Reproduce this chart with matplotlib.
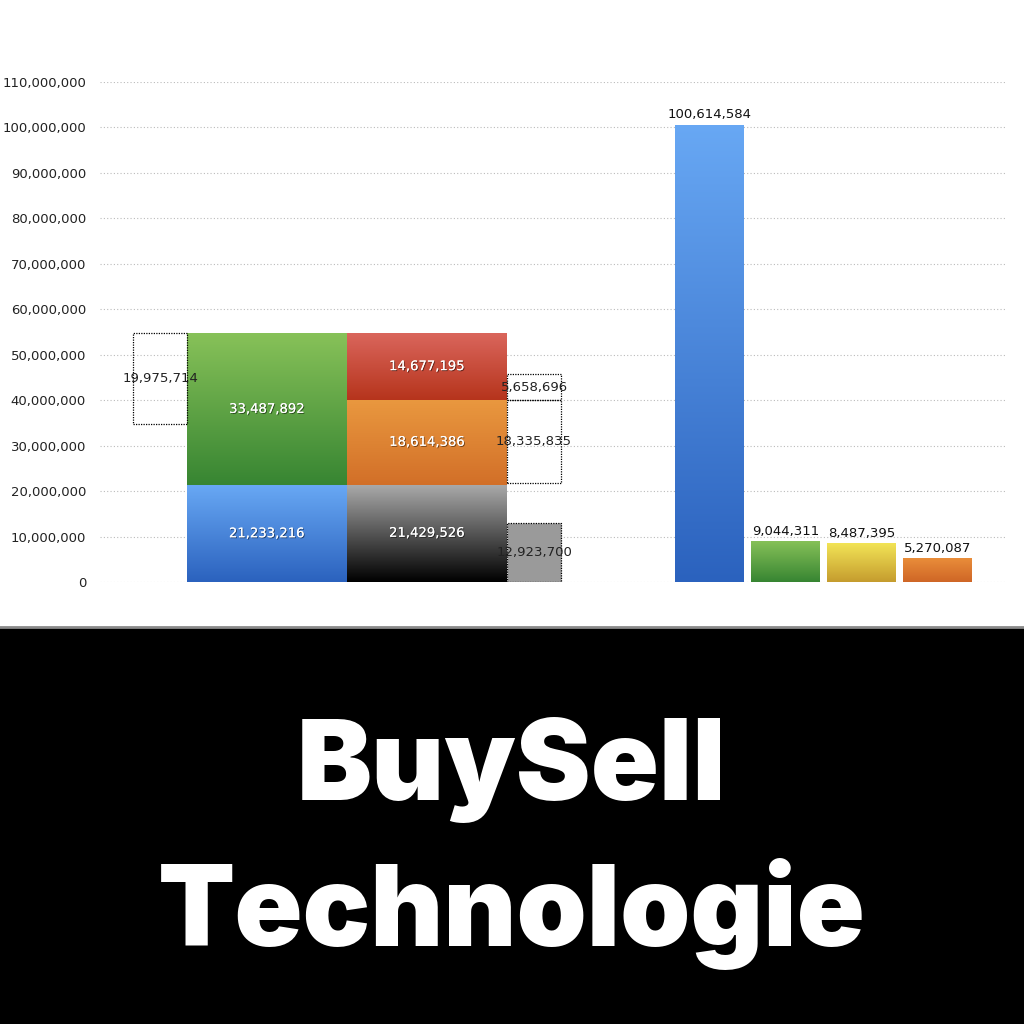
import numpy as np
import matplotlib
matplotlib.use("Agg")
import matplotlib.pyplot as plt
import matplotlib.patheffects as pe
from matplotlib.patches import Rectangle
from matplotlib.ticker import FuncFormatter

# left block: stacked columns and the dotted "difference" boxes
col1_values = [21233216, 33487892]          # blue, green
col2_values = [21429526, 18614386, 14677195]  # black, orange, red
gap_left = 19975714                         # dotted box, left of column 1
gap_right = [5658696, 18335835]             # dotted boxes, right of column 2 (top first)
gap_filled = 12923700                       # grey filled dotted box

# right block: single bars
right_values = [100614584, 9044311, 8487395, 5270087]

title_lines = ["BuySell", "Technologie"]

BLUE = ("#68a8f4", "#2b62be")
GREEN = ("#88c259", "#378532")
RED = ("#da665c", "#b6341c")
ORANGE = ("#e9983f", "#d26f28")
BLACK = ("#ababab", "#000000")
YELLOW = ("#f2e456", "#c59c2e")
ORANGE2 = ("#e98d3a", "#cf6626")


def fmt(v):
    return f"{v:,.0f}"


def gradient_bar(ax, x, h, width, bottom, colors):
    bar = ax.bar(x, h, width=width, bottom=bottom, color=colors[1],
                 linewidth=0, zorder=3)[0]
    cmap = matplotlib.colors.LinearSegmentedColormap.from_list("g", [colors[1], colors[0]])
    grad = np.linspace(0, 1, 256).reshape(-1, 1)
    im = ax.imshow(grad, cmap=cmap, origin="lower", aspect="auto",
                   extent=[x - width / 2, x + width / 2, bottom, bottom + h],
                   zorder=3.5, interpolation="bilinear")
    im.set_clip_path(bar)
    return bar


def dotted_box(ax, x, h, width, bottom, face="none"):
    ax.bar(x, h, width=width, bottom=bottom, facecolor=face, edgecolor="black",
           linestyle=(0, (1, 1)), linewidth=0.9, zorder=4)


shadow = [pe.withSimplePatchShadow(offset=(0.7, -0.7), shadow_rgbFace="black", alpha=0.5), pe.Normal()]

fig = plt.figure(figsize=(10.24, 10.24), dpi=100)
fig.patch.set_facecolor("white")
ax = fig.add_axes([100 / 1024, 1 - 582 / 1024, 905 / 1024, 500 / 1024])

ax.set_xlim(0, 9.05)
ax.set_ylim(0, 110_000_000)
ax.set_yticks(np.arange(0, 110_000_001, 10_000_000))
ax.yaxis.set_major_formatter(FuncFormatter(lambda v, p: fmt(v)))
ax.tick_params(axis="y", length=0, pad=10, labelsize=9.5, labelcolor="#222222")
ax.set_xticks([])
for s in ax.spines.values():
    s.set_visible(False)
ax.grid(axis="y", color="#bbbbbb", linestyle=(0, (1, 2)), linewidth=0.8, zorder=0)
ax.set_axisbelow(True)

c1_x, c2_x, col_w = 1.67, 3.27, 1.6
gl_x, gr_x, gap_w = 0.60, 4.34, 0.54

# column 1
b = 0
for v, c in zip(col1_values, [BLUE, GREEN]):
    gradient_bar(ax, c1_x, v, col_w, b, c)
    ax.text(c1_x, b + v / 2, fmt(v), ha="center", va="center", color="white",
            fontsize=9.5, zorder=6, path_effects=shadow)
    b += v
top = b

# column 2
b = 0
for v, c in zip(col2_values, [BLACK, ORANGE, RED]):
    gradient_bar(ax, c2_x, v, col_w, b, c)
    ax.text(c2_x, b + v / 2, fmt(v), ha="center", va="center", color="white",
            fontsize=9.5, zorder=6, path_effects=shadow)
    b += v

# dotted boxes
dotted_box(ax, gl_x, gap_left, gap_w, top - gap_left)
ax.text(gl_x, top - gap_left / 2, fmt(gap_left), ha="center", va="center",
        fontsize=9.5, color="#222222", zorder=6)

split = col2_values[0] + col2_values[1]
dotted_box(ax, gr_x, gap_right[0], gap_w, split)
ax.text(gr_x, split + gap_right[0] / 2, fmt(gap_right[0]), ha="center", va="center",
        fontsize=9.5, color="#222222", zorder=6)
dotted_box(ax, gr_x, gap_right[1], gap_w, split - gap_right[1])
ax.text(gr_x, split - gap_right[1] / 2, fmt(gap_right[1]), ha="center", va="center",
        fontsize=9.5, color="#222222", zorder=6)
dotted_box(ax, gr_x, gap_filled, gap_w, 0, face="#9a9a9a")
ax.text(gr_x, gap_filled / 2, fmt(gap_filled), ha="center", va="center",
        fontsize=9.5, color="#222222", zorder=6)

# right bars
r_x = [6.095, 6.855, 7.615, 8.375]
for x, v, c in zip(r_x, right_values, [BLUE, GREEN, YELLOW, ORANGE2]):
    gradient_bar(ax, x, v, 0.69, 0, c)
    ax.text(x, v + 700_000, fmt(v), ha="center", va="bottom", fontsize=9.5,
            color="#111111", zorder=6)

# black caption panel
fig.patches.append(Rectangle((0, 0), 1, 1 - 628 / 1024, transform=fig.transFigure,
                             facecolor="black", edgecolor="none", zorder=0))
fig.add_artist(plt.Line2D([0, 1], [1 - 627 / 1024] * 2, transform=fig.transFigure,
                          color="#8a8a8a", linewidth=2))
fig.text(0.5, 1 - 800 / 1024, title_lines[0], ha="center", va="baseline", color="white",
         fontsize=81, fontweight="black", family=["Inter", "DejaVu Sans"])
fig.text(0.5, 1 - 946 / 1024, title_lines[1], ha="center", va="baseline", color="white",
         fontsize=81, fontweight="black", family=["Inter", "DejaVu Sans"])

fig.savefig("out.png", dpi=100, facecolor="white")
